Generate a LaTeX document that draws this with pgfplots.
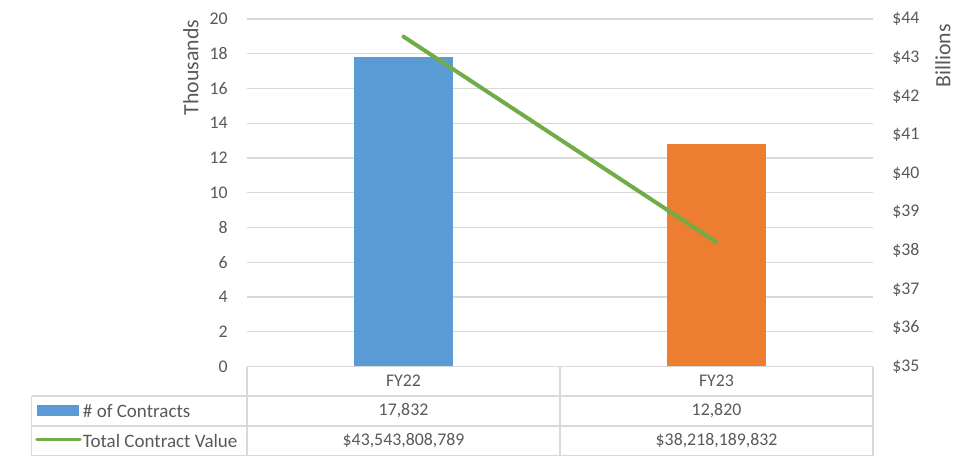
\documentclass[border=0pt]{standalone}
\usepackage{fontspec}
\setmainfont{Carlito}
\usepackage{pgfplots}
\pgfplotsset{compat=1.18}

\definecolor{xlblue}{HTML}{5B9BD5}
\definecolor{xlorange}{HTML}{ED7D31}
\definecolor{xlgreen}{HTML}{70AD47}
\definecolor{txtgray}{HTML}{595959}
\definecolor{gridgray}{HTML}{D9D9D9}

\pgfplotsset{
  xlbase/.style={
    at={(123.5pt,47.75pt)}, anchor=south west,
    scale only axis, width=313pt, height=173.75pt,
    xmin=-0.5, xmax=1.5, xtick=\empty,
    axis line style={draw=none},
    major tick length=0pt,
    tick label style={font=\fontsize{8.9}{10.7}\selectfont, text=txtgray},
    /pgf/number format/assume math mode=true,
  },
}

\begin{document}
\begin{tikzpicture}[x=1pt,y=1pt,font=\fontsize{8.9}{10.7}\selectfont]
\path[use as bounding box] (0,0) rectangle (490,231);

% left axis: number of contracts (thousands)
\begin{axis}[xlbase,
  ymin=0, ymax=20, ytick={0,2,...,20},
  ymajorgrids, grid style={gridgray, line width=0.55pt},
  yticklabel style={inner sep=0pt, xshift=-9.5pt},
  ybar, bar width=49.5pt, bar shift=0pt,
]
\addplot[fill=xlblue, draw=none] coordinates {(0,17.832)};
\addplot[fill=xlorange, draw=none] coordinates {(1,12.820)};
\end{axis}

% right axis: total contract value (billions)
\begin{axis}[xlbase,
  ymin=35, ymax=44, ytick={35,...,44},
  axis y line*=right,
  yticklabel={\$\pgfmathprintnumber{\tick}},
  yticklabel style={inner sep=0pt, xshift=9.5pt},
]
\addplot[xlgreen, line width=2pt, line cap=round] coordinates {(0,43.543808789) (1,38.218189832)};
\end{axis}

% axis titles
\node[rotate=90, text=txtgray, font=\fontsize{10.9}{13}\selectfont] at (95.5,197.3) {Thousands};
\node[rotate=90, text=txtgray, font=\fontsize{10.9}{13}\selectfont] at (471.5,203) {Billions};

% data table
\begin{scope}[draw=gridgray, line width=0.65pt]
  \draw (123.5,47.75) -- (436.5,47.75);
  \draw (15.75,33) -- (436.5,33);
  \draw (15.75,18) -- (436.5,18);
  \draw (15.75,3.25) -- (436.5,3.25);
  \draw (15.75,3.25) -- (15.75,33);
  \draw (123.5,3.25) -- (123.5,47.75);
  \draw (280,3.25) -- (280,47.75);
  \draw (436.5,3.25) -- (436.5,47.75);
\end{scope}
\fill[xlblue] (18.6,23.15) rectangle (39.5,28.5);
\draw[xlgreen, line width=1.75pt, line cap=round] (18.5,11.35) -- (40,11.35);
\begin{scope}[text=txtgray]
  \node at (201.75,40.4) {FY22};
  \node at (358.25,40.4) {FY23};
  \node[anchor=west, inner sep=0pt, font=\fontsize{9.5}{11.4}\selectfont] at (41.3,25.5) {\# of Contracts};
  \node[anchor=west, inner sep=0pt, font=\fontsize{9.5}{11.4}\selectfont] at (41.3,10.6) {Total Contract Value};
  \node at (201.75,25.5) {17,832};
  \node at (358.25,25.5) {12,820};
  \node at (201.75,10.6) {\$43,543,808,789};
  \node at (358.25,10.6) {\$38,218,189,832};
\end{scope}
\end{tikzpicture}
\end{document}
